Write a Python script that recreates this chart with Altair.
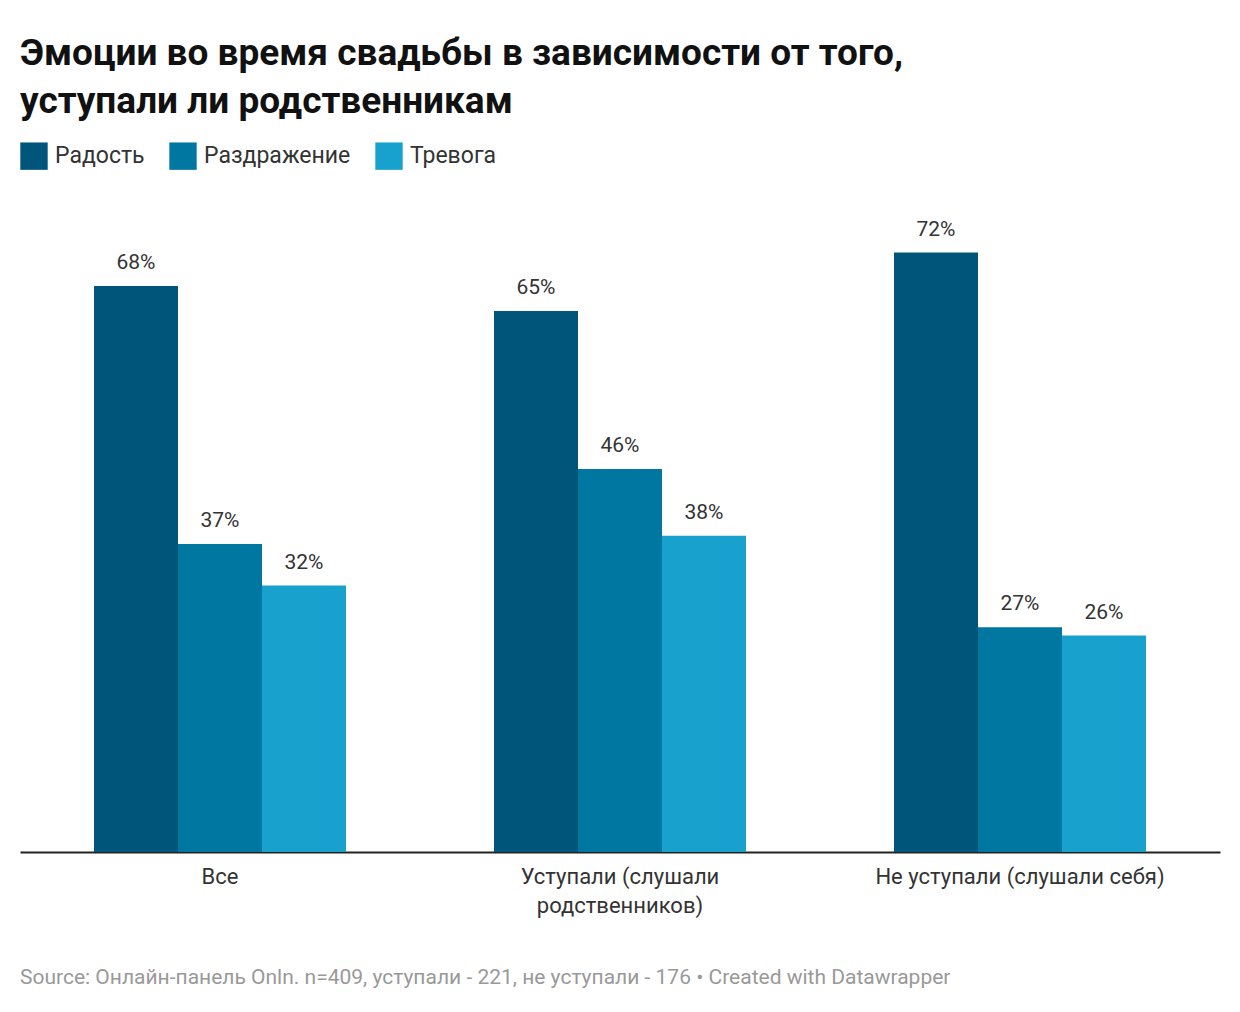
import altair as alt
import pandas as pd

groups = ["Все", "Уступали (слушали|родственников)", "Не уступали (слушали себя)"]
emotions = ["Радость", "Раздражение", "Тревога"]
values = {
    "Радость": [68, 65, 72],
    "Раздражение": [37, 46, 27],
    "Тревога": [32, 38, 26],
}
colors = ["#00557a", "#0077a1", "#18a1cd"]

rows = []
for e in emotions:
    for g, v in zip(groups, values[e]):
        rows.append({"group": g, "emotion": e, "value": v, "label": f"{v}%"})
df = pd.DataFrame(rows)

W, H = 1200, 666
FONT = "Roboto"

base = alt.Chart(df).encode(
    x=alt.X("group:N", sort=groups, title=None,
            scale=alt.Scale(paddingInner=0.37, paddingOuter=0.185),
            axis=alt.Axis(labelAngle=0, labelFontSize=22, labelColor="#333",
                          labelFont=FONT, labelPadding=14, ticks=False,
                          labelLimit=500,
                          domainColor="#222", domainWidth=2,
                          labelExpr="split(datum.label, '|')", labelLineHeight=29)),
    xOffset=alt.XOffset("emotion:N", sort=emotions),
    y=alt.Y("value:Q", scale=alt.Scale(domain=[0, 80]), axis=None),
)

bars = base.mark_bar().encode(
    color=alt.Color("emotion:N", sort=emotions,
                    scale=alt.Scale(domain=emotions, range=colors),
                    legend=alt.Legend(title=None, orient="none", direction="horizontal",
                                      legendX=0, legendY=-44, symbolType="square",
                                      symbolSize=750, symbolStrokeWidth=0,
                                      symbolOpacity=1, labelFontSize=23,
                                      labelFont=FONT, labelColor="#333",
                                      columnPadding=24, labelOffset=7))
)

labels = base.mark_text(dy=-13, baseline="bottom", fontSize=21, font=FONT,
                        color="#333").encode(text="label:N")

source = alt.Chart(pd.DataFrame({"t": ["Source: Онлайн-панель Onln. n=409, уступали - 221, не уступали - 176 • Created with Datawrapper"]})).mark_text(
    align="left", baseline="middle", fontSize=21, font=FONT, color="#999"
).encode(x=alt.value(0), y=alt.value(H + 126), text="t:N")

chart = alt.layer(bars, labels, source).properties(
    width=W, height=H,
    background="white",
    padding={"left": 12, "top": 178, "right": 12, "bottom": 160},
    autosize=alt.AutoSizeParams(type="none"),
    title=alt.TitleParams(
        ["Эмоции во время свадьбы в зависимости от того,", "уступали ли родственникам"],
        anchor="start", fontSize=37, font=FONT, fontWeight="bold", color="#111",
        lineHeight=48, offset=80, baseline="bottom", dy=96),
).configure_view(stroke=None, strokeWidth=0)

chart.save("out.html", embed_options={"renderer": "svg", "actions": False})
